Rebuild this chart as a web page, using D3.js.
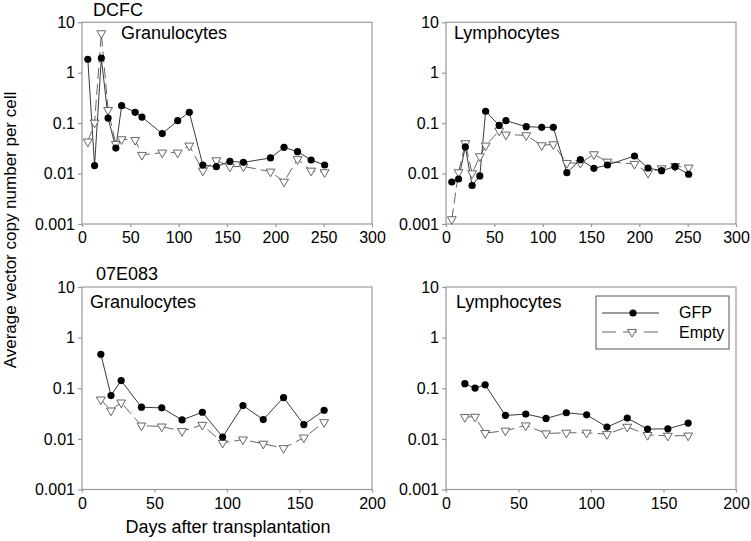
<!DOCTYPE html>
<html><head><meta charset="utf-8">
<script src="https://cdn.jsdelivr.net/npm/d3@7"></script>
<style>
html,body{margin:0;padding:0;background:#fff;}
text{font-family:"Liberation Sans",Arial,sans-serif;fill:#000;}
</style></head>
<body>
<svg id="chart" width="751" height="541"></svg>
<script>
// ---- data ----
const daysDCFC = [6,13,20,27,35,41,55,62,83,99,111,125,139,153,167,195,209,223,237,251];
const dcfcGranGFP   = [1.85,0.0144,1.96,0.126,0.032,0.222,0.164,0.132,0.062,0.112,0.164,0.0148,0.0137,0.0175,0.0167,0.0204,0.0332,0.0272,0.0186,0.0148];
const dcfcGranEmpty = [0.043,0.102,6.05,0.182,0.0386,0.0478,0.0463,0.0234,0.026,0.026,0.0358,0.0114,0.0183,0.0137,0.0139,0.0109,0.0069,0.0192,0.0114,0.0106];
const dcfcLymGFP    = [0.0068,0.0078,0.0337,0.0058,0.0090,0.172,0.0906,0.112,0.0853,0.0827,0.0827,0.0104,0.0189,0.0127,0.0148,0.0223,0.0129,0.0114,0.0137,0.0097];
const dcfcLymEmpty  = [0.00124,0.0106,0.0398,0.0101,0.022,0.0358,0.071,0.0592,0.0574,0.0363,0.038,0.0162,0.0162,0.0241,0.0172,0.0155,0.0103,0.0127,0.0141,0.0131];

const days07E083 = [13,20,27,41,55,69,83,97,111,125,139,153,167];
const e07GranGFP   = [0.469,0.0716,0.142,0.0422,0.041,0.0237,0.0336,0.0109,0.0455,0.0241,0.0655,0.0192,0.0368];
const e07GranEmpty = [0.0597,0.0362,0.0521,0.0183,0.0175,0.0142,0.0189,0.00834,0.0097,0.0080,0.00654,0.0106,0.0213];
const e07LymGFP    = [0.123,0.1007,0.117,0.029,0.0309,0.0253,0.0328,0.0299,0.0171,0.0257,0.0156,0.0158,0.0205];
const e07LymEmpty  = [0.0269,0.0273,0.0130,0.0145,0.0184,0.0128,0.0132,0.0132,0.0124,0.0173,0.0119,0.0115,0.0116];

const yTicks = [0.001,0.01,0.1,1,10];
const yTickLabels = ["0.001","0.01","0.1","1","10"];
const xTicksTop = [0,50,100,150,200,250,300];
const xTicksBottom = [0,50,100,150,200];
const seriesNames = ["GFP","Empty"];
const donorNames = ["DCFC","07E083"];
const cellNames = ["Granulocytes","Lymphocytes"];
const yTitle = "Average vector copy number per cell";
const xTitle = "Days after transplantation";

// ---- layout ----
const svg = d3.select("#chart");
const axisColor = "#9a9a9a";
const panels = [
  {x0:82, x1:372, y0:22.3, y1:224, xmax:300, xt:xTicksTop, days:daysDCFC, gfp:dcfcGranGFP, emp:dcfcGranEmpty, label:cellNames[0], lx:121, ly:39},
  {x0:446, x1:736, y0:22.3, y1:224, xmax:300, xt:xTicksTop, days:daysDCFC, gfp:dcfcLymGFP, emp:dcfcLymEmpty, label:cellNames[1], lx:454, ly:39},
  {x0:82, x1:372, y0:287, y1:489.5, xmax:200, xt:xTicksBottom, days:days07E083, gfp:e07GranGFP, emp:e07GranEmpty, label:cellNames[0], lx:90, ly:308},
  {x0:446, x1:736, y0:287, y1:489.5, xmax:200, xt:xTicksBottom, days:days07E083, gfp:e07LymGFP, emp:e07LymEmpty, label:cellNames[1], lx:456, ly:308}
];

const triangle = d3.symbol().type(d3.symbolTriangle).size(34);

panels.forEach(p => {
  const x = d3.scaleLinear().domain([0,p.xmax]).range([p.x0,p.x1]);
  const y = d3.scaleLog().domain([0.001,10]).range([p.y1,p.y0]);
  const g = svg.append("g");

  // frame
  g.append("rect").attr("x",p.x0).attr("y",p.y0).attr("width",p.x1-p.x0).attr("height",p.y1-p.y0)
    .attr("fill","none").attr("stroke",axisColor).attr("stroke-width",1.2);

  // y axis
  const ya = d3.axisLeft(y).tickValues(yTicks).tickFormat((d,i)=>yTickLabels[i]).tickSize(4).tickPadding(3);
  const yg = g.append("g").attr("transform",`translate(${p.x0},0)`).call(ya);
  yg.select(".domain").remove();
  yg.selectAll("line").attr("stroke",axisColor).attr("stroke-width",1.2);
  yg.selectAll("text").style("font-size","16px").style("font-family","'Liberation Sans',Arial,sans-serif").attr("fill","#000");

  // x axis
  const xa = d3.axisBottom(x).tickValues(p.xt).tickFormat(d3.format("d")).tickSize(3).tickPadding(5);
  const xg = g.append("g").attr("transform",`translate(0,${p.y1})`).call(xa);
  xg.select(".domain").remove();
  xg.selectAll("line").attr("stroke",axisColor).attr("stroke-width",1.2);
  xg.selectAll("text").style("font-size","16px").style("font-family","'Liberation Sans',Arial,sans-serif").attr("fill","#000");

  // lines
  const line = d3.line().x((d)=>x(d[0])).y(d=>y(d[1]));
  const empData = p.days.map((d,i)=>[d,p.emp[i]]);
  const gfpData = p.days.map((d,i)=>[d,p.gfp[i]]);
  g.append("path").attr("d",line(empData)).attr("fill","none").attr("stroke","#555")
    .attr("stroke-width",0.9).attr("stroke-dasharray","11,5");
  g.append("path").attr("d",line(gfpData)).attr("fill","none").attr("stroke","#222").attr("stroke-width",0.9);

  g.selectAll(".tri").data(empData).enter().append("path")
    .attr("d",triangle).attr("transform",d=>`translate(${x(d[0])},${y(d[1])}) rotate(180)`)
    .attr("fill","#fff").attr("stroke","#555").attr("stroke-width",0.9);
  g.selectAll(".dot").data(gfpData).enter().append("circle")
    .attr("cx",d=>x(d[0])).attr("cy",d=>y(d[1])).attr("r",3.6).attr("fill","#000");

  g.append("text").attr("x",p.lx).attr("y",p.ly).style("font-size","18px").text(p.label);
});

// donor labels
svg.append("text").attr("x",93).attr("y",16).style("font-size","18px").text(donorNames[0]);
svg.append("text").attr("x",96).attr("y",280).style("font-size","18px").text(donorNames[1]);

// axis titles
svg.append("text").attr("transform","translate(16,230) rotate(-90)").attr("text-anchor","middle")
  .style("font-size","17px").text(yTitle);
svg.append("text").attr("x",228).attr("y",533).attr("text-anchor","middle").style("font-size","18px").text(xTitle);

// legend
const lg = svg.append("g");
lg.append("rect").attr("x",596).attr("y",296).attr("width",133).attr("height",53)
  .attr("fill","#fff").attr("stroke","#555").attr("stroke-width",1);
lg.append("line").attr("x1",602).attr("x2",659).attr("y1",313).attr("y2",313).attr("stroke","#222").attr("stroke-width",0.9);
lg.append("circle").attr("cx",633).attr("cy",313).attr("r",3.6).attr("fill","#000");
lg.append("line").attr("x1",602).attr("x2",659).attr("y1",332).attr("y2",332).attr("stroke","#555")
  .attr("stroke-width",0.9).attr("stroke-dasharray","14,7");
lg.append("path").attr("d",triangle).attr("transform","translate(632,332) rotate(180)")
  .attr("fill","#fff").attr("stroke","#555").attr("stroke-width",0.9);
lg.append("text").attr("x",679).attr("y",318).style("font-size","16px").text(seriesNames[0]);
lg.append("text").attr("x",679).attr("y",338).style("font-size","16px").text(seriesNames[1]);
</script>
</body></html>
